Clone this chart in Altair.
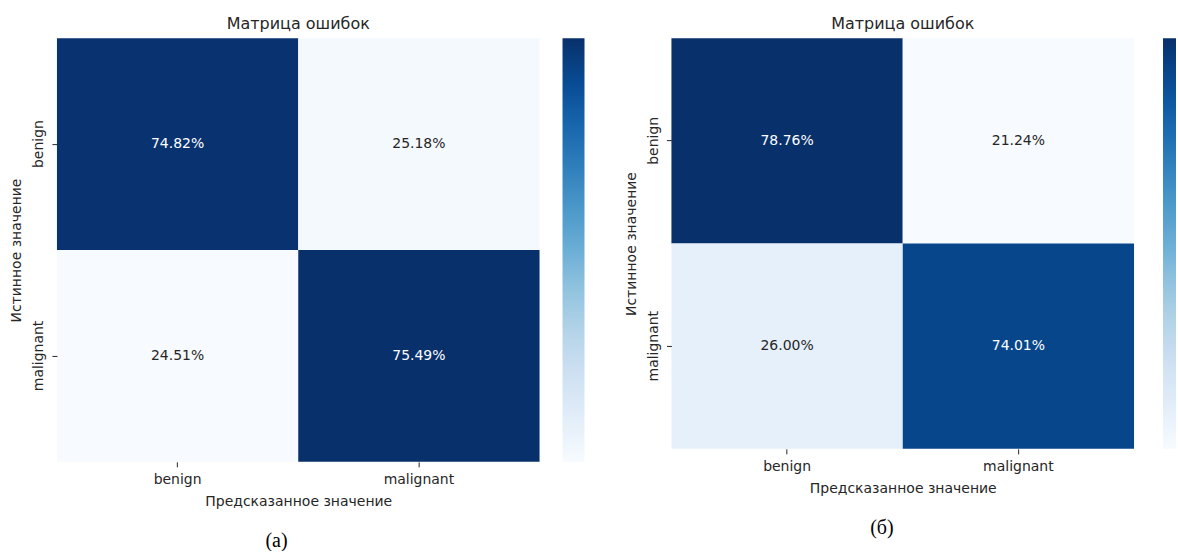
import altair as alt
import pandas as pd
import numpy as np

true_labels = ["benign", "benign", "malignant", "malignant"]
pred_labels = ["benign", "malignant", "benign", "malignant"]
values_a = [74.82, 25.18, 24.51, 75.49]
values_b = [78.76, 21.24, 26.00, 74.01]
categories = ["benign", "malignant"]
captions = ["(а)", "(б)"]
title_text = "Матрица ошибок"
x_title = "Предсказанное значение"
y_title = "Истинное значение"

blues = ["#f7fbff", "#deebf7", "#c6dbef", "#9ecae1", "#6baed6",
         "#4292c6", "#2171b5", "#08519c", "#08306b"]

FONT = "DejaVu Sans"
TXT = "#262626"


def panel(values, caption, width, height, leg_thick, leg_offset):
    df = pd.DataFrame({"true": true_labels, "pred": pred_labels, "value": values})
    lo, hi = min(values), max(values)
    dom = [lo + i * (hi - lo) / 8 for i in range(9)]
    mid = (lo + hi) / 2
    base = alt.Chart(df)
    x = alt.X("pred:N", sort=categories, title=x_title,
              scale=alt.Scale(paddingInner=0, paddingOuter=0),
              axis=alt.Axis(labelAngle=0))
    y = alt.Y("true:N", sort=categories, title=y_title,
              scale=alt.Scale(paddingInner=0, paddingOuter=0),
              axis=alt.Axis(labelAngle=270, labelAlign="center", labelBaseline="bottom"))
    rect = base.mark_rect(strokeWidth=0).encode(
        x=x, y=y,
        color=alt.Color("value:Q",
                        scale=alt.Scale(domain=dom, range=blues, interpolate="rgb"),
                        legend=alt.Legend(title=None, labelExpr="''", labelPadding=0,
                                          gradientLength=height,
                                          gradientThickness=leg_thick, offset=leg_offset,
                                          padding=0, gradientStrokeWidth=0,
                                          direction="vertical")),
    )
    text = base.mark_text(font=FONT, fontSize=14).transform_calculate(
        label="format(datum.value, '.2f') + '%'"
    ).encode(
        x=alt.X("pred:N", sort=categories),
        y=alt.Y("true:N", sort=categories),
        text="label:N",
        color=alt.condition(f"datum.value > {mid}", alt.value("white"), alt.value(TXT)),
    )
    cap = alt.Chart(pd.DataFrame({"caption": [caption]})).mark_text(
        font="Liberation Serif", fontSize=20, color="black", baseline="middle"
    ).encode(
        text="caption:N",
        x=alt.value(width * 0.455),
        y=alt.value(height + 79),
    )
    return alt.layer(rect, text, cap).properties(
        width=width, height=height,
        title=alt.TitleParams(title_text, fontSize=16, font=FONT, fontWeight="normal",
                              color=TXT, offset=6),
    )


left = panel(values_a, captions[0], 483, 424, 22, 23)
right = panel(values_b, captions[1], 463, 411, 13, 29)

chart = alt.hconcat(left, right, spacing=38).resolve_scale(color="independent").properties(
    padding={"left": 10, "top": 16, "right": 0, "bottom": 0},
    background="white",
).configure_view(stroke=None).configure_axis(
    domain=False, grid=False, tickSize=5, tickColor=TXT, labelPadding=6,
    titlePadding=8, labelFont=FONT, titleFont=FONT, labelFontSize=14, titleFontSize=14,
    titleFontWeight="normal", labelColor=TXT, titleColor=TXT,
)

chart.save("out.html", embed_options={"renderer": "svg", "actions": False})
